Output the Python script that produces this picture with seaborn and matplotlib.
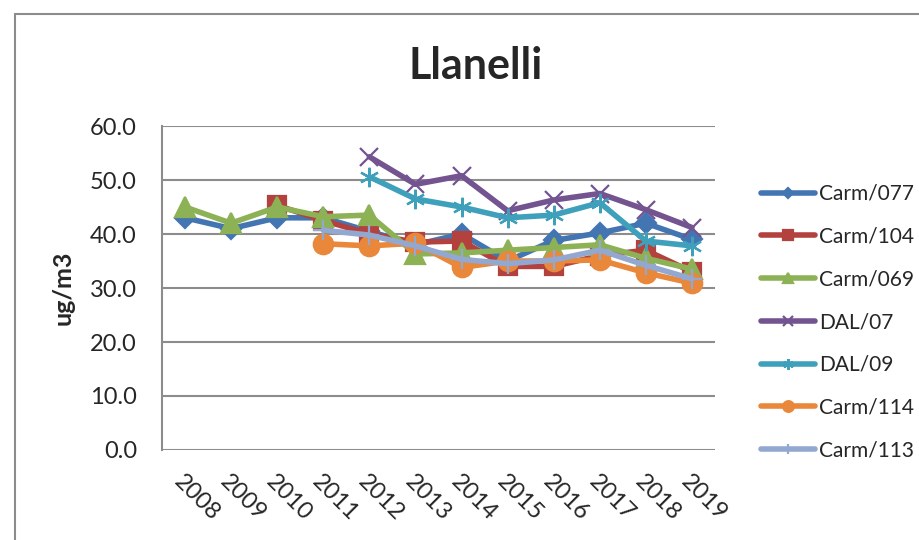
import numpy as np
import pandas as pd
import seaborn as sns
import matplotlib.pyplot as plt
from matplotlib.patches import Rectangle

nan = np.nan

years = list(range(2008, 2020))
sites = ['Carm/077', 'Carm/104', 'Carm/069', 'DAL/07', 'DAL/09', 'Carm/114', 'Carm/113']

carm077 = [43.0, 41.0, 43.0, 43.0, 40.5, 38.0, 40.0, 35.0, 38.8, 40.2, 42.0, 39.0]
carm104 = [nan, nan, 45.3, 42.5, 40.0, 38.5, 38.7, 34.0, 34.0, 36.0, 37.0, 33.0]
carm069 = [45.0, 42.0, 45.0, 43.2, 43.5, 36.3, 36.5, 37.0, 37.5, 38.0, 35.5, 33.5]
dal07 = [nan, nan, nan, nan, 54.3, 49.2, 50.8, 44.3, 46.3, 47.5, 44.5, 41.2]
dal09 = [nan, nan, nan, nan, 50.6, 46.5, 45.0, 43.0, 43.5, 45.8, 38.7, 37.8]
carm114 = [nan, nan, nan, 38.2, 37.8, 38.3, 33.8, 35.0, 35.0, 35.2, 32.8, 30.9]
carm113 = [nan, nan, nan, 40.7, 39.8, 37.8, 35.3, 34.5, 35.2, 37.0, 34.2, 31.7]

series = [carm077, carm104, carm069, dal07, dal09, carm114, carm113]

colors = ['#4375B3', '#B3423F', '#8DB255', '#735390', '#3FA0BC', '#E9873A', '#92A8D1']
markers = ['D', 's', '^', 'x', (6, 2, 0), 'o', '+']
msizes = [10, 13, 14, 13, 14, 14, 14]

df = pd.DataFrame({'year': years * len(sites),
                   'site': [s for s in sites for _ in years],
                   'value': [v for vals in series for v in vals]})

sns.set_style("white")
plt.rcParams['font.family'] = ['Lato', 'DejaVu Sans']

fig = plt.figure(figsize=(9.2, 5.4), dpi=100)
ax = fig.add_axes([162 / 920, 1 - 450 / 540, 553 / 920, 324 / 540])

for site, col, mk, ms in zip(sites, colors, markers, msizes):
    sns.lineplot(data=df[df['site'] == site].dropna(), x='year', y='value',
                 color=col, marker=mk, markersize=ms, linewidth=4.0,
                 markeredgecolor=col, markeredgewidth=1.6, label=site, ax=ax)

ax.set_xlim(2007.5, 2019.5)
ax.set_ylim(0, 60)
ax.set_yticks(np.arange(0, 61, 10))
ax.set_yticklabels([f'{t:.1f}' for t in np.arange(0, 61, 10)], fontsize=17)
ax.set_xticks(years)
ax.set_xticklabels([str(y) for y in years], fontsize=17, rotation=-45,
                   ha='left', rotation_mode='anchor')
ax.tick_params(axis='both', length=0)
ax.tick_params(axis='x', pad=15)
ax.tick_params(axis='y', pad=18)
ax.set_xlabel('')
ax.set_ylabel('ug/m3', fontsize=18, fontweight='bold')
ax.yaxis.set_label_coords(-0.158, 0.5)

ax.grid(axis='y', color='#8c8c8c', linewidth=1.5)
ax.grid(axis='x', visible=False)
for side in ['top', 'right', 'bottom']:
    ax.spines[side].set_visible(False)
ax.spines['left'].set_color('#8c8c8c')
ax.spines['left'].set_linewidth(1.5)

handles, labels = ax.get_legend_handles_labels()
ax.legend(handles, labels, loc='upper left', bbox_to_anchor=(761 / 920, 1 - 184 / 540),
          bbox_transform=fig.transFigure, frameon=False, fontsize=15,
          handlelength=2.6, handletextpad=0.2, labelspacing=1.09,
          borderpad=0, borderaxespad=0, markerscale=0.55)

fig.text(476 / 920, 1 - 79 / 540, 'Llanelli', fontsize=31, fontweight='bold',
         ha='center', va='baseline')

fig.patches.append(Rectangle((15 / 920, -0.2), 2, 1.2 - 14 / 540, transform=fig.transFigure,
                             fill=False, edgecolor='#8c8c8c', linewidth=1.5))

fig.savefig('out.png', dpi=100)
